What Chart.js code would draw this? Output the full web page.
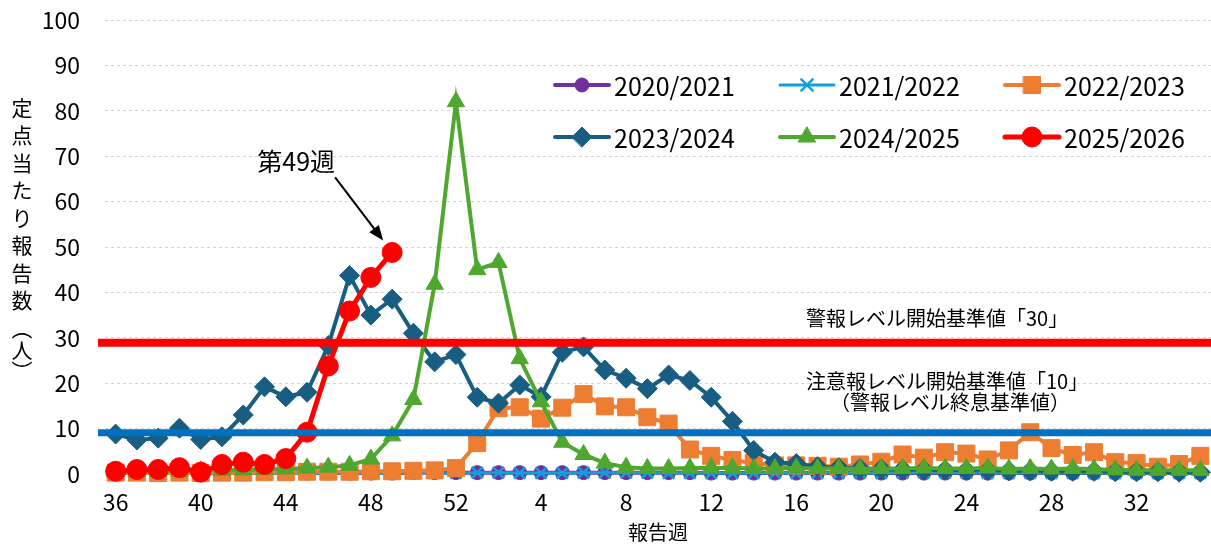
<!DOCTYPE html>
<html lang="ja">
<head>
<meta charset="utf-8">
<title>定点当たり報告数</title>
<script src="https://cdn.jsdelivr.net/npm/chart.js@4.4.1/dist/chart.umd.min.js"></script>
<style>
  html, body { margin: 0; padding: 0; background: #fff; }
  #wrap { width: 1211px; height: 546px; }
</style>
</head>
<body>
<div id="wrap"><canvas id="chart" width="1211" height="546"></canvas></div>
<script>
(function () {
  "use strict";

  /* ── Data ─────────────────────────────────── */

  var WEEKS = [36, 37, 38, 39, 40, 41, 42, 43, 44, 45, 46, 47, 48, 49, 50, 51, 52,
    1, 2, 3, 4, 5, 6, 7, 8, 9, 10, 11, 12, 13, 14, 15, 16, 17,
    18, 19, 20, 21, 22, 23, 24, 25, 26, 27, 28, 29, 30, 31, 32, 33, 34, 35];

  var S2020 = [0.2, 0.2, 0.2, 0.2, 0.2, 0.2, 0.2, 0.2, 0.2, 0.2, 0.2, 0.2, 0.2, 0.2, 0.3, 0.3, 0.3,
    0.3, 0.3, 0.3, 0.3, 0.3, 0.3, 0.3, 0.3, 0.3, 0.3, 0.3, 0.2, 0.2, 0.2, 0.2, 0.2, 0.2,
    0.2, 0.2, 0.2, 0.2, 0.2, 0.2, 0.2, 0.2, 0.2, 0.2, 0.2, 0.2, 0.2, 0.2, 0.2, 0.2, 0.2, 0.2];
  var S2021 = [0.2, 0.1, 0.1, 0.2, 0.1, 0.1, 0.2, 0.2, 0.1, 0.1, 0.2, 0.2, 0.1, 0.2, 0.2, 0.2, 0.2,
    0.3, 0.3, 0.2, 0.2, 0.2, 0.3, 0.3, 0.3, 0.3, 0.2, 0.2, 0.2, 0.2, 0.2, 0.2, 0.2, 0.2,
    0.2, 0.2, 0.2, 0.3, 0.3, 0.3, 0.3, 0.2, 0.2, 0.2, 0.2, 0.2, 0.2, 0.2, 0.2, 0.2, 0.2, 0.2];
  var S2022 = [0.3, 0.3, 0.2, 0.3, 0.2, 0.3, 0.3, 0.4, 0.4, 0.5, 0.5, 0.5, 0.6, 0.6, 0.7, 0.8, 1.3,
    6.8, 14.5, 14.7, 12.2, 14.6, 17.6, 14.9, 14.7, 12.5, 11.1, 5.4, 4.0, 3.1, 2.4, 1.9, 1.9, 1.8,
    1.6, 2.1, 2.7, 4.3, 3.6, 4.8, 4.5, 3.2, 5.2, 9.2, 5.7, 4.2, 4.8, 2.6, 2.4, 1.6, 2.2, 4.0];
  var S2023 = [8.8, 7.5, 7.9, 10.1, 7.6, 8.2, 13.0, 19.2, 17.0, 18.0, 28.3, 43.7, 35.0, 38.5, 31.0, 24.7, 26.3,
    16.9, 15.6, 19.6, 17.0, 26.8, 28.0, 22.9, 21.1, 18.8, 21.8, 20.6, 16.9, 11.6, 5.2, 2.6, 2.3, 1.6,
    1.4, 1.2, 1.1, 1.0, 0.9, 0.9, 0.8, 0.8, 0.7, 0.7, 0.6, 0.6, 0.6, 0.5, 0.5, 0.5, 0.4, 0.4];
  var S2024 = [0.5, 0.5, 0.6, 0.6, 0.7, 0.8, 0.9, 1.0, 1.1, 1.3, 1.5, 1.9, 3.3, 8.4, 16.4, 41.8, 82.0,
    45.0, 46.6, 25.4, 15.9, 7.0, 4.3, 2.4, 1.5, 1.2, 1.2, 1.3, 1.4, 1.3, 1.2, 1.2, 1.3, 1.2,
    1.2, 1.1, 1.2, 1.2, 1.3, 1.2, 1.2, 1.3, 1.1, 1.2, 1.1, 1.2, 1.1, 0.9, 0.8, 0.8, 0.8, 0.8];
  var S2025 = [0.6, 1.0, 1.0, 1.4, 0.4, 2.1, 2.6, 2.1, 3.4, 9.2, 23.8, 35.9, 43.3, 48.8];

  var WARN_LEVEL = 28.9;     // 警報レベル開始基準値
  var CAUTION_LEVEL = 9.1;   // 注意報レベル開始基準値
  var LATEST_INDEX = 13;     // 第49週

  /* ── Styles ───────────────────────────────── */

  var NUM_FONT = '"Noto Sans CJK JP", "Noto Sans", sans-serif';
  var JP_FONT = '"Noto Sans CJK JP", sans-serif';

  var LEGEND_X = 553, LEGEND_Y = 85, LEGEND_COL_W = 225, LEGEND_ROW_H = 52;

  function series(label, data, color, style, radius, order, width) {
    return {
      label: label,
      data: data,
      borderColor: color,
      backgroundColor: color,
      pointBackgroundColor: color,
      pointBorderColor: color,
      borderWidth: width,
      pointStyle: style,
      pointRadius: radius,
      pointHoverRadius: radius,
      pointBorderWidth: style === "crossRot" ? 2.5 : 1,
      tension: 0,
      fill: false,
      clip: false,
      order: order
    };
  }

  /* ── Plugins ──────────────────────────────── */

  var levelLines = {
    id: "levelLines",
    afterDatasetsDraw: function (chart) {
      var ctx = chart.ctx, a = chart.chartArea, y = chart.scales.y;
      ctx.save();
      ctx.lineCap = "butt";
      [[WARN_LEVEL, "#ff0000", 8], [CAUTION_LEVEL, "#0070c0", 7]].forEach(function (l) {
        var py = y.getPixelForValue(l[0]);
        ctx.strokeStyle = l[1];
        ctx.lineWidth = l[2];
        ctx.beginPath();
        ctx.moveTo(a.left - 7, py);
        ctx.lineTo(a.right, py);
        ctx.stroke();
      });

      ctx.fillStyle = "#000";
      ctx.font = "20px " + JP_FONT;
      ctx.textBaseline = "middle";
      ctx.textAlign = "left";
      var wy = y.getPixelForValue(WARN_LEVEL), cy = y.getPixelForValue(CAUTION_LEVEL);
      ctx.fillText("警報レベル開始基準値「30」", 806, wy - 24);
      ctx.fillText("注意報レベル開始基準値「10」", 806, cy - 51);
      ctx.fillText("（警報レベル終息基準値）", 830, cy - 30);

      // arrow to latest point
      var pt = chart.getDatasetMeta(5).data[LATEST_INDEX];
      var tx = pt.x - 9, ty = pt.y - 12;
      var fx = pt.x - 57, fy = pt.y - 75;
      var ang = Math.atan2(ty - fy, tx - fx);
      ctx.strokeStyle = "#000";
      ctx.lineWidth = 2;
      ctx.beginPath();
      ctx.moveTo(fx, fy);
      ctx.lineTo(tx - 12 * Math.cos(ang), ty - 12 * Math.sin(ang));
      ctx.stroke();
      ctx.beginPath();
      ctx.moveTo(tx, ty);
      ctx.lineTo(tx - 15 * Math.cos(ang) + 6 * Math.sin(ang), ty - 15 * Math.sin(ang) - 6 * Math.cos(ang));
      ctx.lineTo(tx - 15 * Math.cos(ang) - 6 * Math.sin(ang), ty - 15 * Math.sin(ang) + 6 * Math.cos(ang));
      ctx.closePath();
      ctx.fillStyle = "#000";
      ctx.fill();

      ctx.font = "25px " + JP_FONT;
      ctx.textAlign = "center";
      ctx.fillText("第49週", pt.x - 96, pt.y - 91);
      ctx.restore();
    }
  };

  var gridLegend = {
    id: "gridLegend",
    afterDraw: function (chart) {
      var ctx = chart.ctx;
      chart.data.datasets.forEach(function (ds, i) {
        var x = LEGEND_X + (i % 3) * LEGEND_COL_W;
        var y = LEGEND_Y + Math.floor(i / 3) * LEGEND_ROW_H;
        ctx.save();
        ctx.strokeStyle = ds.borderColor;
        ctx.lineWidth = ds.borderWidth;
        ctx.lineCap = "round";
        ctx.beginPath();
        ctx.moveTo(x + 2, y);
        ctx.lineTo(x + 56, y);
        ctx.stroke();
        ctx.fillStyle = ds.pointBackgroundColor;
        ctx.strokeStyle = ds.pointBorderColor;
        ctx.lineWidth = ds.pointBorderWidth;
        Chart.helpers.drawPoint(ctx, {
          pointStyle: ds.pointStyle, radius: ds.pointRadius,
          borderWidth: ds.pointBorderWidth, rotation: 0
        }, x + 29, y);
        ctx.fillStyle = "#000";
        ctx.font = "25px " + NUM_FONT;
        ctx.textBaseline = "middle";
        ctx.textAlign = "left";
        ctx.fillText(ds.label, x + 61, y + 1);
        ctx.restore();
      });
    }
  };

  var yTitle = {
    id: "yTitle",
    afterDraw: function (chart) {
      var ctx = chart.ctx;
      var chars = ["定", "点", "当", "た", "り", "報", "告", "数"];
      ctx.save();
      ctx.fillStyle = "#000";
      ctx.font = "21px " + JP_FONT;
      ctx.textAlign = "center";
      ctx.textBaseline = "middle";
      chars.forEach(function (c, i) { ctx.fillText(c, 22, 108 + i * 27.5); });
      ctx.fillText("人", 22, 350);
      ctx.translate(22, 329);
      ctx.rotate(Math.PI / 2);
      ctx.fillText("（", 0, 0);
      ctx.rotate(-Math.PI / 2);
      ctx.translate(0, 42);
      ctx.rotate(Math.PI / 2);
      ctx.fillText("）", 0, 0);
      ctx.restore();
    }
  };

  /* ── Chart ────────────────────────────────── */

  function init() {
    var ctx = document.getElementById("chart");
    new Chart(ctx, {
      type: "line",
      data: {
        labels: WEEKS,
        datasets: [
          series("2020/2021", S2020, "#7030a0", "circle", 7, 5, 4),
          series("2021/2022", S2021, "#12a0dc", "crossRot", 8, 4, 3),
          series("2022/2023", S2022, "#ed7d31", "rect", 12, 3, 4),
          series("2023/2024", S2023, "#175e82", "rectRot", 10, 2, 4),
          series("2024/2025", S2024, "#4ea72e", "triangle", 10, 1, 4),
          series("2025/2026", S2025, "#ff0000", "circle", 10, 0, 5)
        ]
      },
      options: {
        responsive: false,
        animation: false,
        devicePixelRatio: 1,
        layout: { autoPadding: false, padding: { top: 20, right: 0, bottom: 0, left: 0 } },
        plugins: { legend: { display: false }, tooltip: { enabled: false } },
        scales: {
          x: {
            offset: true,
            border: { display: false },
            grid: { display: false, drawTicks: false },
            ticks: {
              autoSkip: false,
              maxRotation: 0,
              padding: 14,
              color: "#000",
              font: { size: 23, family: NUM_FONT },
              callback: function (v, i) { return i % 4 === 0 ? WEEKS[i] : ""; }
            },
            title: {
              display: true,
              text: "報告週",
              color: "#000",
              font: { size: 20, family: JP_FONT },
              padding: { top: 0, bottom: 2 }
            },
            afterFit: function (s) {
              s.height = 72;
              s.paddingLeft = 0;
              s.paddingRight = 0;
            }
          },
          y: {
            min: 0,
            max: 100,
            grid: {
              drawTicks: false,
              color: function (c) { return c.tick && c.tick.value === 0 ? "rgba(0,0,0,0)" : "#d4d4d4"; },
              lineWidth: 1
            },
            border: { display: false, dash: [3, 3] },
            ticks: {
              stepSize: 10,
              padding: 25,
              color: "#000",
              font: { size: 23, family: NUM_FONT }
            },
            afterFit: function (s) {
              s.width = 105;
              s.paddingTop = 0;
              s.paddingBottom = 0;
            }
          }
        }
      },
      plugins: [levelLines, gridLegend, yTitle]
    });
  }

  if (document.readyState === "loading") {
    document.addEventListener("DOMContentLoaded", init);
  } else {
    init();
  }
})();
</script>
</body>
</html>
